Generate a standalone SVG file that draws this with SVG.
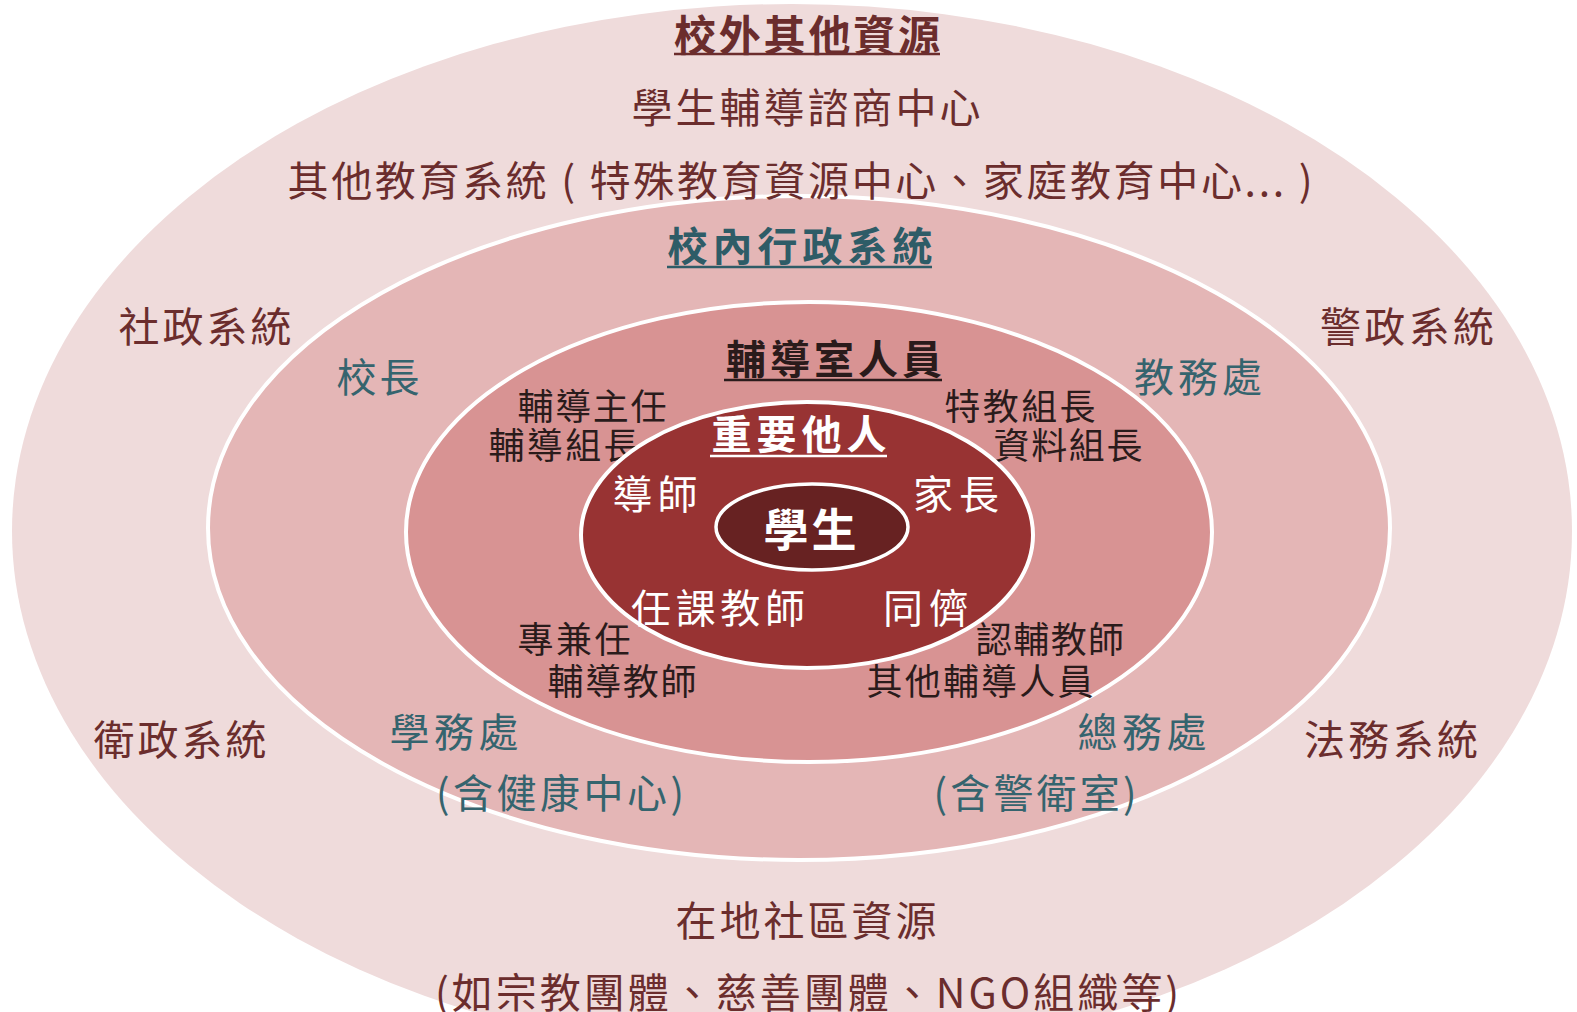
<svg xmlns="http://www.w3.org/2000/svg" width="1577" height="1012" viewBox="0 0 1577 1012">
<style>
text{font-family:"Noto Sans CJK TC","Noto Sans CJK SC",sans-serif;dominant-baseline:central;text-anchor:middle}
.o{fill:#6b2d2d;font-size:41px}
.ob{fill:#6b2d2d;font-size:42px;font-weight:bold}
.t{fill:#35646e;font-size:40px}
.tb{fill:#2e5c67;font-size:40px;font-weight:bold}
.d{fill:#2a1b1b;font-size:36px}
.db{fill:#2a1b1b;font-size:40px;font-weight:bold}
.w{fill:#ffffff;font-size:40px}
.wb{fill:#ffffff;font-size:40px;font-weight:bold}
.ring{stroke:#ffffff;stroke-width:4}
</style>
<rect width="1577" height="1012" fill="#ffffff"/>
<g id="ring-outer">
<ellipse cx="792" cy="531" rx="780" ry="527" fill="#efdbdb"/>
</g>
<g id="ring-admin">
<ellipse class="ring" cx="799" cy="528" rx="591" ry="332" fill="#e4b6b6"/>
<text class="tb" x="800" y="244" textLength="265" lengthAdjust="spacing">校內行政系統</text>
<line x1="667" y1="267" x2="932" y2="267" stroke="#2e5c67" stroke-width="2.5"/>
<text class="t" x="378" y="375" textLength="83" lengthAdjust="spacing">校長</text>
<text class="t" x="1198" y="375" textLength="128" lengthAdjust="spacing">教務處</text>
<text class="t" x="454" y="730" textLength="129" lengthAdjust="spacing">學務處</text>
<text class="t" x="560" y="791" textLength="248" lengthAdjust="spacing">(含健康中心)</text>
<text class="t" x="1142" y="730" textLength="129" lengthAdjust="spacing">總務處</text>
<text class="t" x="1035" y="791" textLength="203" lengthAdjust="spacing">(含警衛室)</text>
</g>
<g id="ring-counsel">
<ellipse class="ring" cx="809" cy="532" rx="403" ry="230" fill="#d89393"/>
<text class="db" x="834" y="357" textLength="216" lengthAdjust="spacing">輔導室人員</text>
<line x1="724" y1="380" x2="942" y2="380" stroke="#2a1b1b" stroke-width="2.5"/>
<text class="d" x="592" y="404" textLength="149" lengthAdjust="spacing">輔導主任</text>
<text class="d" x="564" y="443" textLength="151" lengthAdjust="spacing">輔導組長</text>
<text class="d" x="1020" y="404" textLength="151" lengthAdjust="spacing">特教組長</text>
<text class="d" x="1068" y="443" textLength="149" lengthAdjust="spacing">資料組長</text>
<text class="d" x="574" y="637" textLength="113" lengthAdjust="spacing">專兼任</text>
<text class="d" x="622" y="679" textLength="149" lengthAdjust="spacing">輔導教師</text>
<text class="d" x="1050" y="637" textLength="148" lengthAdjust="spacing">認輔教師</text>
<text class="d" x="980" y="679" textLength="227" lengthAdjust="spacing">其他輔導人員</text>
</g>
<g id="ring-others">
<ellipse class="ring" cx="807" cy="535" rx="226" ry="133" fill="#983333"/>
<text class="wb" x="799" y="432" textLength="175" lengthAdjust="spacing">重要他人</text>
<line x1="710" y1="456" x2="887" y2="456" stroke="#ffffff" stroke-width="2.5"/>
<text class="w" x="655" y="492" textLength="85" lengthAdjust="spacing">導師</text>
<text class="w" x="956" y="492" textLength="86" lengthAdjust="spacing">家長</text>
<text class="w" x="718" y="606" textLength="174" lengthAdjust="spacing">任課教師</text>
<text class="w" x="926" y="606" textLength="86" lengthAdjust="spacing">同儕</text>
</g>
<g id="student">
<ellipse cx="812" cy="527" rx="96" ry="43" fill="#672222" stroke="#ffffff" stroke-width="3.5"/>
<text class="wb" x="810" y="527" style="font-size:45px" textLength="93" lengthAdjust="spacing">學生</text>
</g>
<g id="outer-labels">
<text class="ob" x="807" y="32" textLength="266" lengthAdjust="spacing">校外其他資源</text>
<line x1="674" y1="54" x2="940" y2="54" stroke="#6b2d2d" stroke-width="2.5"/>
<text class="o" x="806" y="105" textLength="349" lengthAdjust="spacing">學生輔導諮商中心</text>
<text class="o" x="800" y="178" textLength="1025" lengthAdjust="spacing">其他教育系統 ( 特殊教育資源中心、家庭教育中心... )</text>
<text class="o" x="205" y="324" textLength="173" lengthAdjust="spacing">社政系統</text>
<text class="o" x="1407" y="324" textLength="174" lengthAdjust="spacing">警政系統</text>
<text class="o" x="180" y="737" textLength="173" lengthAdjust="spacing">衛政系統</text>
<text class="o" x="1391" y="737" textLength="174" lengthAdjust="spacing">法務系統</text>
<text class="o" x="806" y="918" textLength="261" lengthAdjust="spacing">在地社區資源</text>
<text class="o" x="807" y="990" textLength="744" lengthAdjust="spacing">(如宗教團體、慈善團體、NGO組織等)</text>
</g>
<g id="connectors"/>
</svg>
